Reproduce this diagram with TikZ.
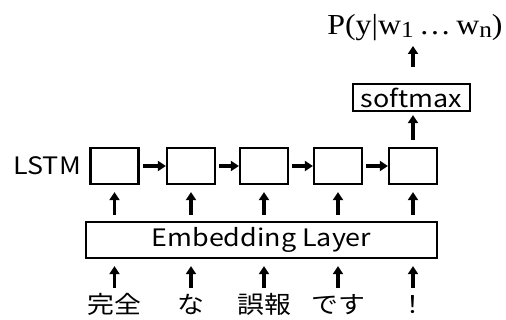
\documentclass[tikz,border=0pt]{standalone}
\usepackage{fontspec}
\usepackage{graphicx}
\newfontfamily\jp{Noto Sans CJK JP}
\newfontfamily\ser{Liberation Serif}
\usetikzlibrary{arrows.meta}
\newcommand{\wide}[1]{\scalebox{1.12}[1]{#1}}
\newcommand{\lowsub}[1]{\raisebox{-3pt}{\fontsize{23}{24}\selectfont #1}}
\begin{document}
\begin{tikzpicture}[x=1pt,y=-1pt,
  box/.style={draw, line width=2.2pt, minimum width=48pt, minimum height=36pt, inner sep=0pt},
  lbl/.style={font=\jp\fontsize{24}{28}\selectfont, inner sep=0pt},
  arr/.style={line width=3.2pt, -{Triangle[length=8pt,width=10pt]}}]
\useasboundingbox[fill=white] (0,0) rectangle (506,320);
% LSTM cells
\node[box] (l1) at (114.5,166) {};
\node[box] (l2) at (191,166) {};
\node[box] (l3) at (264,166) {};
\node[box] (l4) at (338,166) {};
\node[box] (l5) at (413,166) {};
\node[lbl, anchor=east] (lstm) at (81,165.5) {\wide{LSTM}};
% embedding
\node[box, lbl, minimum width=351pt, minimum height=36pt] (emb) at (261.5,240) {\wide{Embedding Layer}};
% softmax
\node[box, lbl, minimum width=117pt, minimum height=27pt] (sm) at (411.5,97.5) {\wide{softmax}};
% output
\node[inner sep=0pt, anchor=base, font=\ser\fontsize{29}{34}\selectfont] (p) at (415,35) {\scalebox{1.1}[1]{P(y|w\lowsub{1}\,…\,w\lowsub{n})}};
\coordinate (ptip) at (411.5,46);
% words
\node[lbl, anchor=base] (w1) at (114.5,314) {\wide{完全}};
\node[lbl, anchor=base] (w2) at (191,314) {\wide{な}};
\node[lbl, anchor=base] (w3) at (264,314) {\wide{誤報}};
\node[lbl, anchor=base] (w4) at (338,314) {\wide{です}};
\node[lbl, anchor=base] (w5) at (413,314) {\wide{！}};
% arrows
\foreach \i/\j in {1/2,2/3,3/4,4/5}
  \draw[arr, shorten <=3pt] (l\i.east) -- (l\j.west);
\foreach \i in {1,...,5}{
  \draw[arr, shorten <=6pt, shorten >=7pt] (l\i |- emb.north) -- (l\i.south);
  \draw[arr, shorten <=6pt, shorten >=7pt] (l\i |- w1.north) -- (l\i |- emb.south);
}
\draw[arr, shorten <=7pt, shorten >=3pt] (l5.north) -- (l5 |- sm.south);
\draw[arr, shorten <=16pt] (l5 |- sm.north) -- (l5 |- ptip);
\end{tikzpicture}
\end{document}
